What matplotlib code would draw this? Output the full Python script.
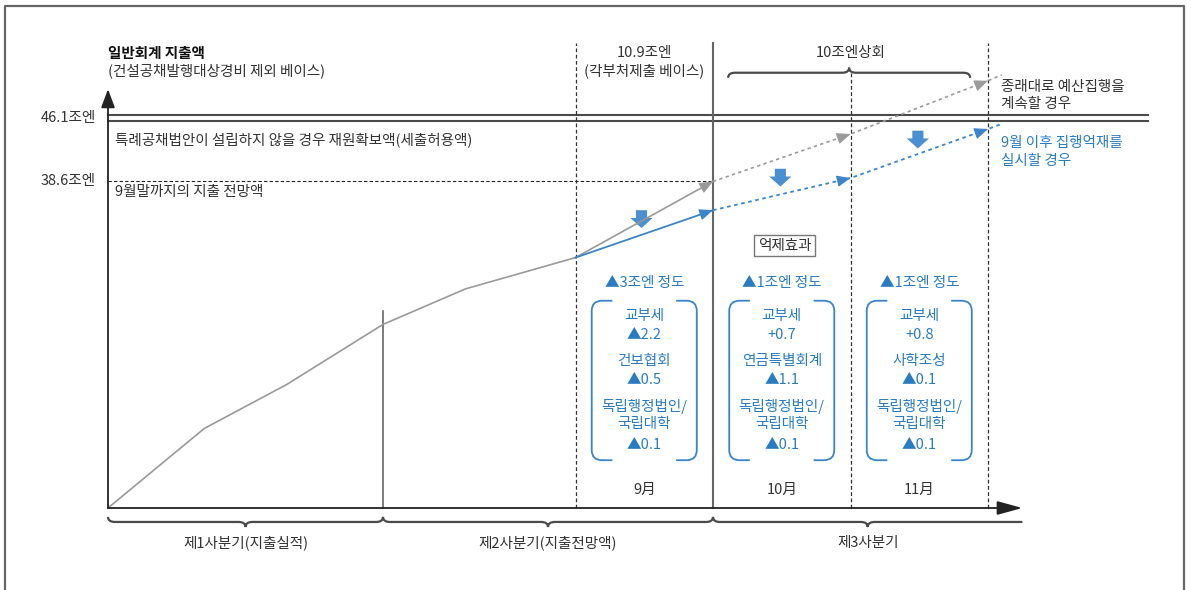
import numpy as np
import matplotlib.pyplot as plt
from matplotlib.path import Path
from matplotlib.patches import PathPatch, FancyArrowPatch

plt.rcParams['font.family'] = ['Noto Sans CJK KR', 'DejaVu Sans']

# horizontal axis in schematic month units, vertical axis in 조엔
line_x = [0, 0.7, 1.3, 2.0, 2.6, 3.4]
line_y = [0, 9.4, 14.6, 21.7, 25.9, 29.6]

# September split: current pace vs. restrained spending
sep_x = [3.4, 4.4]
gray_sep = [29.6, 38.6]
blue_sep = [29.6, 35.2]

# projection for October / November
proj_x = [4.4, 5.4, 6.4, 6.5]
gray_proj = [38.6, 44.2, 50.5, 51.2]
blue_proj = [35.2, 39.0, 44.8, 45.4]

limit_level = 46.1
sep_level = 38.6

quarter_edges = [0, 2.0, 4.4, 6.65]
quarter_labels = ['제1사분기(지출실적)', '제2사분기(지출전망액)', '제3사분기']
month_edges = [3.4, 4.4, 5.4, 6.4]
month_labels = ['9月', '10月', '11月']
cut_totals = ['▲3조엔 정도', '▲1조엔 정도', '▲1조엔 정도']
cut_items = [
    ['교부세', '▲2.2', '건보협회', '▲0.5', '독립행정법인/', '국립대학', '▲0.1'],
    ['교부세', '+0.7', '연금특별회계', '▲1.1', '독립행정법인/', '국립대학', '▲0.1'],
    ['교부세', '+0.8', '사학조성', '▲0.1', '독립행정법인/', '국립대학', '▲0.1'],
]
drop_x = [3.88, 4.89, 5.89]
drop_y = [35.2, 40.1, 44.6]

GRAY = '#9a9a9a'
DARK = '#4a4a4a'
TXT = '#333333'
BLUE = '#3a85c9'
BLUE_TXT = '#2a7cc2'
DROP = '#4a8fd0'

W, H = 1191, 590
fig = plt.figure(figsize=(W / 100, H / 100), dpi=100)
ax = fig.add_axes([0, 0, 1, 1])
# origin of the diagram sits at pixel (108, 508)
xs, ys = 137.5, 8.46
ax.set_xlim(-108 / xs, (W - 108) / xs)
ax.set_ylim(-(H - 508) / ys, 508 / ys)
ax.axis('off')

# outer frame
fr = dict(color='#666666', lw=1.6, transform=fig.transFigure, clip_on=False)
ax.plot([5 / W, 5 / W, 1184 / W, 1184 / W], [0, 1 - 5.5 / H, 1 - 5.5 / H, 0], **fr)

top = 55.0


def arrow_head(x0, y0, x1, y1, color, ms=14):
    # tiny segment just before the end point, so only the head shows
    xa = x1 - 0.01 * (x1 - x0)
    ya = y1 - 0.01 * (y1 - y0)
    ax.annotate('', xy=(x1, y1), xytext=(xa, ya),
                arrowprops=dict(arrowstyle='-|>,head_length=0.6,head_width=0.25',
                                color=color, lw=0.8, shrinkA=0, shrinkB=0,
                                mutation_scale=ms))


def brace(x0, x1, y, h, r, lw=1.6, right_end=True):
    xm = (x0 + x1) / 2
    verts = [(x0, y + h), (x0, y), (x0 + r, y), (xm - r, y), (xm, y), (xm, y - h),
             (xm, y), (xm + r, y)]
    codes = [Path.MOVETO, Path.CURVE3, Path.CURVE3, Path.LINETO, Path.CURVE3, Path.CURVE3,
             Path.CURVE3, Path.CURVE3]
    if right_end:
        verts += [(x1 - r, y), (x1, y), (x1, y + h)]
        codes += [Path.LINETO, Path.CURVE3, Path.CURVE3]
    else:
        verts += [(x1, y)]
        codes += [Path.LINETO]
    ax.add_patch(PathPatch(Path(verts, codes), fill=False, ec=DARK, lw=lw,
                           clip_on=False))


def bracket(xl, xr, yb, yt, arm, rx, ry):
    for side, x in (('l', xl), ('r', xr)):
        s = 1 if side == 'l' else -1
        verts = [(x + s * arm, yt), (x + s * rx, yt), (x, yt), (x, yt - ry),
                 (x, yb + ry), (x, yb), (x + s * rx, yb), (x + s * arm, yb)]
        codes = [Path.MOVETO, Path.LINETO, Path.CURVE3, Path.CURVE3,
                 Path.LINETO, Path.CURVE3, Path.CURVE3, Path.LINETO]
        ax.add_patch(PathPatch(Path(verts, codes), fill=False, ec=BLUE, lw=1.3))


# axes with arrows
ax.annotate('', xy=(0, 49.5), xytext=(0, 0),
            arrowprops=dict(arrowstyle='-|>,head_length=0.8,head_width=0.3',
                            color='#222222', lw=1.3, shrinkA=0, shrinkB=0,
                            mutation_scale=14))
ax.annotate('', xy=(quarter_edges[-1], 0), xytext=(0, 0),
            arrowprops=dict(arrowstyle='-|>,head_length=1.1,head_width=0.3',
                            color='#222222', lw=1.3, shrinkA=0, shrinkB=0,
                            mutation_scale=14))

# reference levels
ax.plot([0, 7.56], [limit_level + 0.35] * 2, color=DARK, lw=1.5)
ax.plot([0, 7.56], [limit_level - 0.35] * 2, color=DARK, lw=1.5)
ax.plot([0, sep_x[-1]], [sep_level] * 2, color='#222222', lw=0.8, ls=(0, (3, 2)))

# vertical period dividers
ax.plot([quarter_edges[1]] * 2, [0, 23.3], color='#666666', lw=1.2)
ax.plot([month_edges[0]] * 2, [0, top], color='#333333', lw=0.9, ls=(0, (3, 2)))
ax.plot([month_edges[1]] * 2, [0, top], color='#666666', lw=1.5)
ax.plot([month_edges[2]] * 2, [0, 51.5], color='#333333', lw=0.9, ls=(0, (3, 2)))
ax.plot([month_edges[3]] * 2, [0, top], color='#333333', lw=0.9, ls=(0, (3, 2)))

# spending paths
ax.plot(line_x, line_y, color=GRAY, lw=1.2)
ax.plot(sep_x, gray_sep, color=GRAY, lw=1.2)
ax.plot(sep_x, blue_sep, color=BLUE, lw=1.3)
arrow_head(sep_x[0], gray_sep[0], sep_x[1], gray_sep[1], GRAY)
arrow_head(sep_x[0], blue_sep[0], sep_x[1], blue_sep[1], BLUE)
ax.plot(proj_x, gray_proj, color=GRAY, lw=1.2, ls=(0, (2, 2)))
ax.plot(proj_x, blue_proj, color=BLUE, lw=1.3, ls=(0, (2, 2)))
for i in (1, 2):
    arrow_head(proj_x[i - 1], gray_proj[i - 1], proj_x[i], gray_proj[i], GRAY)
    arrow_head(proj_x[i - 1], blue_proj[i - 1], proj_x[i], blue_proj[i], BLUE)

# restraint arrows
for x, y in zip(drop_x, drop_y):
    ax.add_patch(FancyArrowPatch((x, y), (x, y - 2.1),
                                 arrowstyle='simple,head_length=0.45,head_width=1.0,tail_width=0.5',
                                 mutation_scale=16, color=DROP, lw=0, shrinkA=0, shrinkB=0))

# braces
brace(quarter_edges[0], quarter_edges[1], -1.65, 0.6, 0.05)
brace(quarter_edges[1], quarter_edges[2], -1.65, 0.6, 0.05)
brace(quarter_edges[2], quarter_edges[3], -1.65, 0.6, 0.05, right_end=False)
brace(4.51, 6.27, 51.45, -0.6, 0.05)

fs = 10.5
ax.text(0, 53.8, '일반회계 지출액', fontsize=fs, fontweight='bold', color='#111111',
        ha='left', va='center')
ax.text(0, 51.7, '(건설공채발행대상경비 제외 베이스)', fontsize=fs, color=TXT,
        ha='left', va='center')
ax.text(-0.09, limit_level, f'{limit_level}조엔', fontsize=fs, color=TXT,
        ha='right', va='center')
ax.text(-0.09, sep_level, f'{sep_level}조엔', fontsize=fs, color=TXT,
        ha='right', va='center')
ax.text(0.05, 43.5, '특례공채법안이 설립하지 않을 경우 재원확보액(세출허용액)',
        fontsize=fs, color=TXT, ha='left', va='center')
ax.text(0.05, 37.3, '9월말까지의 지출 전망액', fontsize=fs, color=TXT,
        ha='left', va='center')

sep_c = (month_edges[0] + month_edges[1]) / 2
ax.text(sep_c, 53.8, '10.9조엔', fontsize=fs, color=TXT, ha='center', va='center')
ax.text(sep_c, 51.7, '(각부처제출 베이스)', fontsize=fs, color=TXT,
        ha='center', va='center')
ax.text(month_edges[2], 53.8, '10조엔상회', fontsize=fs, color=TXT,
        ha='center', va='center')

ax.text(6.495, 49.8, '종래대로 예산집행을', fontsize=fs, color=TXT, ha='left', va='center')
ax.text(6.495, 47.7, '계속할 경우', fontsize=fs, color=TXT, ha='left', va='center')
ax.text(6.495, 43.1, '9월 이후 집행억재를', fontsize=fs, color=BLUE_TXT,
        ha='left', va='center')
ax.text(6.495, 41.0, '실시할 경우', fontsize=fs, color=BLUE_TXT, ha='left', va='center')

ax.text(4.92, 31.0, '억제효과', fontsize=fs, color=TXT, ha='center', va='center',
        bbox=dict(boxstyle='square,pad=0.25', fc='white', ec='#777777', lw=1.0))

item_y = [22.7, 20.5, 17.4, 15.1, 12.0, 9.9, 7.4]
for i, lab in enumerate(month_labels):
    c = (month_edges[i] + month_edges[i + 1]) / 2
    ax.text(c, 26.6, cut_totals[i], fontsize=fs, color=BLUE_TXT, ha='center', va='center')
    bracket(c - 0.382, c + 0.382, 5.65, 24.5, 0.15, 0.075, 1.2)
    for y, t in zip(item_y, cut_items[i]):
        ax.text(c, y, t, fontsize=fs, color=BLUE_TXT, ha='center', va='center')
    ax.text(c, 2.1, lab, fontsize=fs, color=TXT, ha='center', va='center')

for i, lab in enumerate(quarter_labels):
    c = (quarter_edges[i] + quarter_edges[i + 1]) / 2
    ax.text(c, -4.1, lab, fontsize=fs, color=TXT, ha='center', va='center')

fig.savefig('out.png', dpi=100, facecolor='white')
